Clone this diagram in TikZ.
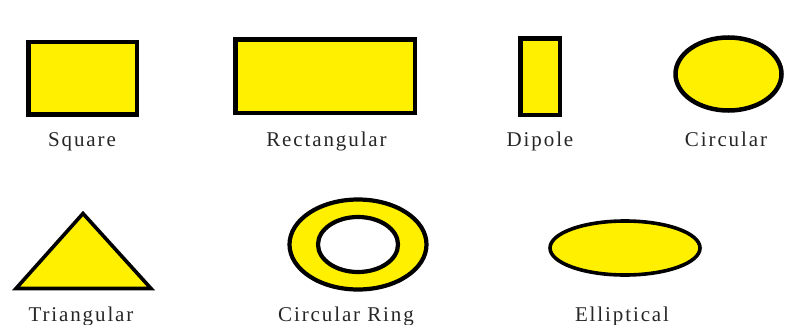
\documentclass[tikz,border=0pt]{standalone}
\usepackage{fontspec}
\setmainfont{Liberation Serif}[LetterSpace=9]
\begin{document}
\begin{tikzpicture}[x=1pt,y=-1pt,
  shp/.style={draw=black,fill=antyellow,line width=4.5pt},
  lbl/.style={text=black!85,font=\fontsize{21}{22}\selectfont,inner sep=0pt,anchor=base}]
\definecolor{antyellow}{HTML}{FFF000}
\useasboundingbox (0,0) rectangle (794,324);
% row 1
\node[shp,draw,minimum width=108.5pt,minimum height=72.5pt,inner sep=0pt] (sq) at (82.5,78) {};
\node[shp,draw,minimum width=179.5pt,minimum height=73.5pt,inner sep=0pt] (rect) at (325,76) {};
\node[shp,draw,minimum width=39.5pt,minimum height=76.5pt,inner sep=0pt] (dip) at (540,76.5) {};
\draw[shp] (728.5,74) ellipse [x radius=53,y radius=36.5];
\node[lbl] (lsq) at (82,146.5) {Square};
\node[lbl] (lrect) at (326.5,146.5) {Rectangular};
\node[lbl] (ldip) at (540,146.5) {Dipole};
\node[lbl] (lcirc) at (726,146.5) {Circular};
% row 2
\draw[shp,line width=3.6pt,line join=miter] (83,213.5) -- (151,288.5) -- (16,288.5) -- cycle;
\draw[shp,line width=4.2pt,even odd rule] (358,244.5) ellipse [x radius=68.5,y radius=45] (358,244.5) ellipse [x radius=40,y radius=27.5];
\draw[shp,line width=3.6pt] (625,248) ellipse [x radius=75,y radius=27];
\node[lbl] (ltri) at (81,321) {Triangular};
\node[lbl] (lring) at (346,321) {Circular Ring};
\node[lbl] (lell) at (622,321) {Elliptical};
\end{tikzpicture}
\end{document}
